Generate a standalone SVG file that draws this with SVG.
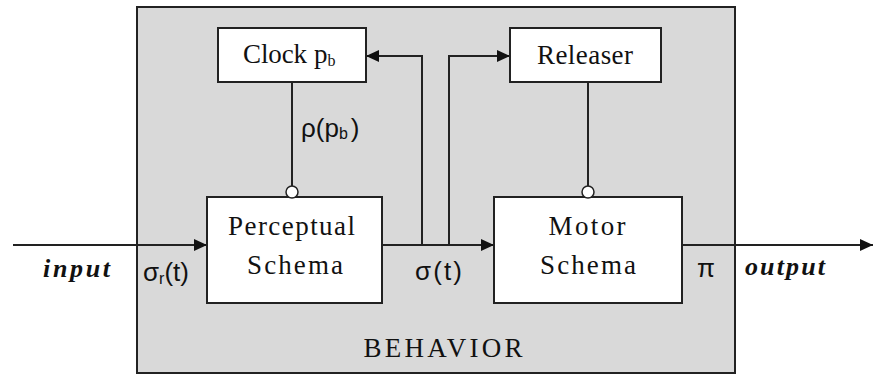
<svg xmlns="http://www.w3.org/2000/svg" width="873" height="376" viewBox="0 0 873 376">
<style>
.box{fill:#fff;stroke:#222;stroke-width:2}
.ln{fill:none;stroke:#222;stroke-width:2}
.t{font-family:"Liberation Serif","Times New Roman",serif;font-size:27px;fill:#111}
.s{font-family:"Liberation Sans",Arial,sans-serif;font-size:26px;fill:#111}
.io{font-family:"Liberation Serif","Times New Roman",serif;font-size:26px;font-weight:bold;font-style:italic;fill:#111}
.knob{fill:#fff;stroke:#222;stroke-width:1.5}
</style>
<defs>
<marker id="ah" markerUnits="userSpaceOnUse" markerWidth="14" markerHeight="12" refX="13" refY="6" orient="auto">
<path d="M0,0 L13,6 L0,12 z" fill="#111"/>
</marker>
</defs>
<rect width="873" height="376" fill="#fff"/>
<g id="behavior">
<rect x="137" y="7" width="598" height="366" fill="#d9d9d9" stroke="#222" stroke-width="2"/>
<text class="t" x="443" y="357" text-anchor="middle" textLength="159" lengthAdjust="spacing">BEHAVIOR</text>
</g>
<g id="connectors">
<line class="ln" x1="13" y1="245" x2="207" y2="245" marker-end="url(#ah)"/>
<line class="ln" x1="382" y1="245" x2="494" y2="245" marker-end="url(#ah)"/>
<line class="ln" x1="682" y1="245" x2="873" y2="245" marker-end="url(#ah)"/>
<polyline class="ln" points="422,245 422,56 366,56" marker-end="url(#ah)"/>
<polyline class="ln" points="449,245 449,56 510,56" marker-end="url(#ah)"/>
<line class="ln" x1="292" y1="82" x2="292" y2="192"/>
<line class="ln" x1="588" y1="82" x2="588" y2="192"/>
</g>
<g id="clock">
<rect class="box" x="218" y="28" width="148" height="54"/>
<text class="t" x="243" y="63"><tspan textLength="64" lengthAdjust="spacing">Clock</tspan><tspan x="314">p</tspan><tspan font-size="16" dy="3">b</tspan></text>
</g>
<g id="releaser">
<rect class="box" x="510" y="28" width="151" height="54"/>
<text class="t" x="585" y="64" text-anchor="middle" textLength="96" lengthAdjust="spacing">Releaser</text>
</g>
<g id="perceptual">
<rect class="box" x="207" y="197" width="175" height="106"/>
<text class="t" x="291.5" y="235" text-anchor="middle" textLength="127" lengthAdjust="spacing">Perceptual</text>
<text class="t" x="295" y="274" text-anchor="middle" textLength="96" lengthAdjust="spacing">Schema</text>
<circle class="knob" cx="292" cy="192" r="6"/>
</g>
<g id="motor">
<rect class="box" x="494" y="197" width="188" height="106"/>
<text class="t" x="587" y="235" text-anchor="middle" textLength="77" lengthAdjust="spacing">Motor</text>
<text class="t" x="588" y="274" text-anchor="middle" textLength="96" lengthAdjust="spacing">Schema</text>
<circle class="knob" cx="588" cy="192" r="6"/>
</g>
<g id="labels">
<text class="s" x="301" y="137">ρ(p<tspan font-size="16" dy="2">b</tspan><tspan dx="3" dy="-2">)</tspan></text>
<text class="io" x="43" y="277" textLength="67" lengthAdjust="spacing">input</text>
<text class="s" x="143" y="281">σ<tspan font-size="16" dy="3">r</tspan><tspan dy="-3">(t)</tspan></text>
<text class="s" x="415" y="280" textLength="47" lengthAdjust="spacing">σ(t)</text>
<text class="s" x="697" y="277">π</text>
<text class="io" x="745" y="275" textLength="80" lengthAdjust="spacing">output</text>
</g>
</svg>
